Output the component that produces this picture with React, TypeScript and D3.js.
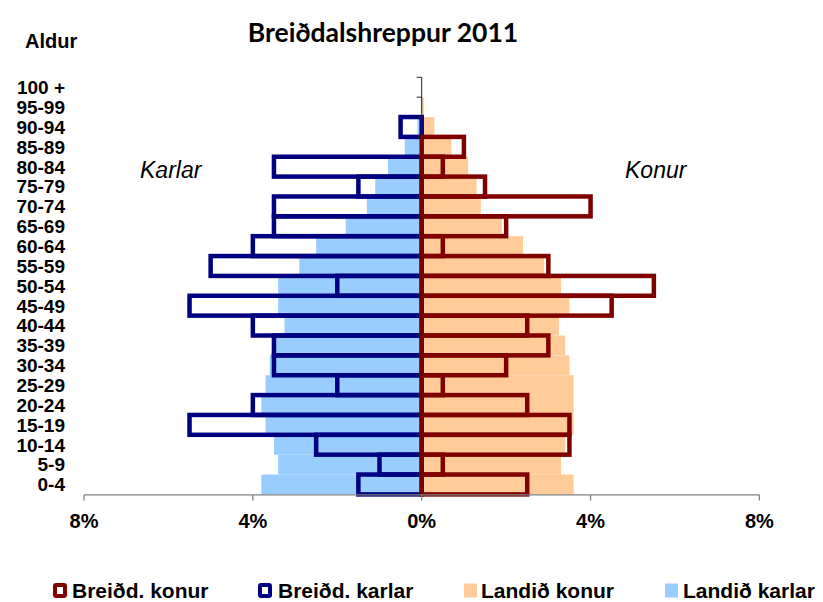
import React from "react";
import * as d3 from "d3";

const categories = ["0-4","5-9","10-14","15-19","20-24","25-29","30-34","35-39","40-44","45-49","50-54","55-59","60-64","65-69","70-74","75-79","80-84","85-89","90-94","95-99","100 +"];
const breidKonur = [2.5,0.5,3.5,3.5,2.5,0.5,2.0,3.0,2.5,4.5,5.5,3.0,0.5,2.0,4.0,1.5,0.5,1.0,0,0,0];
const breidKarlar = [1.5,1.0,2.5,5.5,4.0,2.0,3.5,3.5,4.0,5.5,2.0,5.0,4.0,3.5,3.5,1.5,3.5,0,0.5,0,0];
const landidKonur = [3.6,3.3,3.4,3.6,3.6,3.6,3.5,3.4,3.25,3.5,3.3,2.9,2.4,1.9,1.4,1.3,1.1,0.7,0.3,0.05,0];
const landidKarlar = [3.8,3.4,3.5,3.7,3.8,3.7,3.6,3.45,3.25,3.4,3.4,2.9,2.5,1.8,1.3,1.1,0.8,0.4,0.1,0.02,0];
const xTicks = [-8,-4,0,4,8];
const legendItems = ["Breiðd. konur","Breiðd. karlar","Landið konur","Landið karlar"];
const title = "Breiðdalshreppur 2011";

const C_KONUR = "#800000";
const C_KARLAR = "#000080";
const C_LKONUR = "#FFCC99";
const C_LKARLAR = "#99CCFF";
const FONT = "Arial, 'Liberation Sans', sans-serif";

export default function App() {
  const W = 823, H = 602;
  const x = d3.scaleLinear().domain([-8, 8]).range([84, 759.4]);
  const y = d3.scaleBand<string>().domain([...categories].reverse()).range([77.3, 494.4]).padding(0);
  const bw = y.bandwidth();
  const x0 = x(0);
  const sw = 4.5;

  const legendX = [[53, 72, "outline", C_KONUR], [258, 278, "outline", C_KARLAR], [464, 481, "fill", C_LKONUR], [665, 683, "fill", C_LKARLAR]] as const;

  return (
    <svg width={W} height={H} style={{ position: "absolute", left: 0, top: 0, background: "#fff" }} fontFamily={FONT}>
      <text x={383} y={42} textAnchor="middle" fontFamily="Lato, 'Open Sans', sans-serif" fontWeight={700} fontSize={26.5}>{title}</text>
      <text x={25} y={48} fontWeight={700} fontSize={20}>Aldur</text>
      <text x={140} y={178} fontStyle="italic" fontSize={23}>Karlar</text>
      <text x={625} y={178} fontStyle="italic" fontSize={23}>Konur</text>

      {/* Landið fills */}
      {categories.map((c, i) => landidKarlar[i] > 0 && (
        <rect key={"lk" + c} x={x(-landidKarlar[i])} y={y(c)} width={x0 - x(-landidKarlar[i])} height={bw} fill={C_LKARLAR} />
      ))}
      {categories.map((c, i) => landidKonur[i] > 0 && (
        <rect key={"lw" + c} x={x0} y={y(c)} width={x(landidKonur[i]) - x0} height={bw} fill={C_LKONUR} />
      ))}
      {/* Breiðdalshreppur outlines */}
      {categories.map((c, i) => breidKarlar[i] > 0 && (
        <rect key={"bk" + c} x={x(-breidKarlar[i])} y={y(c)} width={x0 - x(-breidKarlar[i])} height={bw} fill="none" stroke={C_KARLAR} strokeWidth={sw} />
      ))}
      {categories.map((c, i) => breidKonur[i] > 0 && (
        <rect key={"bw" + c} x={x0} y={y(c)} width={x(breidKonur[i]) - x0} height={bw} fill="none" stroke={C_KONUR} strokeWidth={sw} />
      ))}

      {/* vertical axis */}
      <line x1={x0} x2={x0} y1={77.3} y2={494.4} stroke="#222" strokeWidth={1} />
      {d3.range(categories.length + 1).map(k => {
        const yy = 77.3 + k * bw;
        return <line key={"vt" + k} x1={x0 - 5} x2={x0} y1={yy} y2={yy} stroke="#222" strokeWidth={1} />;
      })}
      {categories.map(c => (
        <text key={"lab" + c} x={65} y={(y(c) as number) + bw / 2} dy="0.36em" textAnchor="end" fontWeight={700} fontSize={19}>{c}</text>
      ))}

      {/* horizontal axis */}
      <line x1={x(-8)} x2={x(8)} y1={494.9} y2={494.9} stroke="#808080" strokeWidth={1.3} />
      {xTicks.map(t => (
        <g key={"xt" + t}>
          <line x1={x(t)} x2={x(t)} y1={494.9} y2={500.5} stroke="#808080" strokeWidth={1.3} />
          <text x={x(t)} y={528} textAnchor="middle" fontWeight={700} fontSize={20}>{Math.abs(t) + "%"}</text>
        </g>
      ))}

      {/* legend */}
      {legendItems.map((lab, i) => {
        const [sx, tx, kind, col] = legendX[i];
        return (
          <g key={"lg" + i}>
            {kind === "outline"
              ? <rect x={sx + 2} y={585} width={10} height={11} fill="#fff" stroke={col} strokeWidth={4} rx={1} />
              : <rect x={sx} y={583.5} width={13} height={14} fill={col} />}
            <text x={tx} y={597.5} fontWeight={700} fontSize={21}>{lab}</text>
          </g>
        );
      })}
    </svg>
  );
}
